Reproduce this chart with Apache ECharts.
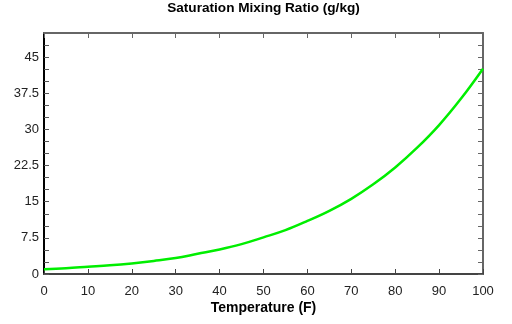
<!DOCTYPE html>
<html>
<head>
<meta charset="utf-8">
<script src="https://cdn.jsdelivr.net/npm/echarts@6/dist/echarts.min.js"></script>
<style>
html,body{margin:0;padding:0;background:#fff;}
#chart{width:512px;height:324px;}
</style>
</head>
<body>
<div id="chart"></div>
<script>
// Temperature (F)
var temperatures = [0, 5, 10, 15, 20, 25, 30, 35, 40, 45, 50, 55, 60, 65, 70, 75, 80, 85, 90, 95, 100];
// Saturation mixing ratio (g/kg)
var mixingRatio = [1.0, 1.2, 1.5, 1.8, 2.2, 2.7, 3.3, 4.2, 5.1, 6.2, 7.6, 9.1, 11.0, 13.1, 15.6, 18.6, 22.1, 26.2, 30.9, 36.4, 42.6];
var titleText = 'Saturation Mixing Ratio (g/kg)';
var xName = 'Temperature (F)';
var yLabelStep = 7.5;

var font = 'Liberation Sans, Arial, sans-serif';
var chart = echarts.init(document.getElementById('chart'), null, {renderer: 'canvas'});

function yFmt(v) {
  var r = v / yLabelStep;
  return Math.abs(r - Math.round(r)) < 1e-6 ? String(v) : '';
}

var option = {
  animation: false,
  backgroundColor: '#fff',
  title: {
    text: titleText,
    left: 263.5,
    textAlign: 'center',
    top: 1,
    padding: 0,
    textStyle: {fontFamily: font, fontSize: 13.6, fontWeight: 'bold', color: '#000'}
  },
  grid: {left: 44, right: 29, top: 33, bottom: 50, containLabel: false},
  xAxis: [{
    type: 'value', min: 0, max: 100, interval: 10, position: 'bottom',
    name: xName, nameLocation: 'middle', nameGap: 27, nameMoveOverlap: false,
    nameTextStyle: {fontFamily: font, fontSize: 14, fontWeight: 'bold', color: '#000'},
    axisLine: {show: true, onZero: false, lineStyle: {color: '#444', width: 2}},
    axisTick: {show: true, inside: true, length: 5, lineStyle: {color: '#444'}},
    axisLabel: {fontFamily: font, fontSize: 13, color: '#222', margin: 11},
    splitLine: {show: false}
  }, {
    type: 'value', min: 0, max: 100, interval: 10, position: 'top',
    axisLine: {show: true, onZero: false, lineStyle: {color: '#666', width: 2}},
    axisTick: {show: true, inside: true, length: 5, lineStyle: {color: '#666'}},
    axisLabel: {show: false},
    splitLine: {show: false}
  }],
  yAxis: [{
    type: 'value', min: 0, max: 50, interval: 2.5, position: 'left',
    axisLine: {show: true, onZero: false, lineStyle: {color: '#000', width: 2}},
    axisTick: {show: true, inside: true, length: 5, lineStyle: {color: '#555'}},
    axisLabel: {fontFamily: font, fontSize: 13, color: '#222', margin: 5, formatter: yFmt, showMaxLabel: false},
    splitLine: {show: false}
  }, {
    type: 'value', min: 0, max: 50, interval: 2.5, position: 'right',
    axisLine: {show: true, onZero: false, lineStyle: {color: '#666', width: 2}},
    axisTick: {show: true, inside: true, length: 5, lineStyle: {color: '#666'}},
    axisLabel: {show: false},
    splitLine: {show: false}
  }],
  series: [{
    type: 'line',
    xAxisIndex: 0, yAxisIndex: 0,
    data: temperatures.map(function (t, i) { return [t, mixingRatio[i]]; }),
    smooth: 0.4,
    showSymbol: false,
    lineStyle: {color: '#00ee00', width: 2.5},
    clip: true
  }]
};
chart.setOption(option);
</script>
</body>
</html>
